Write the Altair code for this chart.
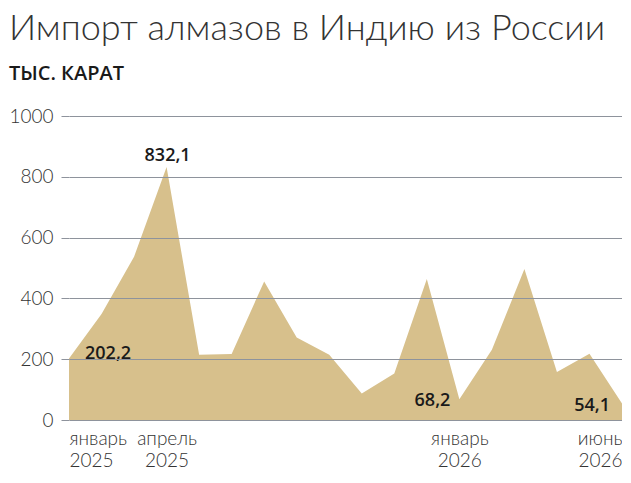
import altair as alt
import pandas as pd

# Monthly imports, thousand carats, Jan 2025 .. Jun 2026
month_index = list(range(18))
values = [202.2, 349, 537, 832.1, 215, 217, 456, 271, 215, 87, 153, 464,
          68.2, 231, 497, 158, 218, 54.1]

tick_positions = [0, 3, 12, 17]
tick_labels = [["январь", "2025"], ["апрель", "2025"], ["январь", "2026"], ["июнь", "2026"]]

annot_idx = [0, 3, 12, 17]
annot_text = ["202,2", "832,1", "68,2", "54,1"]

y_ticks = [0, 200, 400, 600, 800, 1000]

df = pd.DataFrame({"idx": month_index, "value": values})
ann = pd.DataFrame({"idx": annot_idx, "value": [values[i] for i in annot_idx], "text": annot_text})

label_expr = " : ".join(
    f"datum.value == {p} ? ['{a}', '{b}']" for p, (a, b) in zip(tick_positions, tick_labels)
) + " : ''"

FONT = "Open Sans"
AXF = "Lato"
GRID = "#8e939c"
TXT = "#333333"

x_enc = alt.X("idx:Q",
              scale=alt.Scale(domain=[0, 17], nice=False, zero=False),
              axis=alt.Axis(values=tick_positions, labelExpr=label_expr, title=None,
                            grid=False, ticks=False, domain=False, labelFlush=True,
                            labelOverlap=False,
                            labelPadding=9, labelLineHeight=22, labelFontSize=19,
                            labelFont=AXF, labelFontWeight=300, labelColor=TXT))
y_enc = alt.Y("value:Q",
              scale=alt.Scale(domain=[0, 1000], nice=False),
              axis=alt.Axis(values=y_ticks, format="d", title=None, grid=True, gridColor=GRID,
                            gridOpacity=1, gridWidth=1, ticks=True, tickSize=8,
                            tickColor=GRID, domain=False, labelPadding=8,
                            labelFontSize=19, labelFont=AXF, labelFontWeight=300,
                            labelColor=TXT, minExtent=58, maxExtent=58, zindex=1))

area = alt.Chart(df).mark_area(color="#D7C08C", opacity=1).encode(x=x_enc, y=y_enc)

base_t = alt.Chart(ann)
def lbl(i, **kw):
    return base_t.transform_filter(alt.datum.idx == i).mark_text(
        font=FONT, fontSize=18, fontWeight=600, color="#1a1a1a", **kw
    ).encode(x="idx:Q", y="value:Q", text="text:N")

t1 = lbl(0, align="left", baseline="alphabetic", dx=16, dy=0)
t2 = lbl(3, align="center", baseline="alphabetic", dx=1, dy=-6)
t3 = lbl(12, align="right", baseline="alphabetic", dx=-9, dy=7)
t4 = lbl(17, align="right", baseline="alphabetic", dx=-12, dy=7)

chart = alt.layer(area, t1, t2, t3, t4).properties(
    width=614, height=462,
    autosize=alt.AutoSizeParams(type="fit", contains="padding"),
    padding={"left": 0, "top": 3, "right": 0, "bottom": 0},
    title=alt.TitleParams(
        text="Импорт алмазов в Индию из России",
        subtitle="ТЫС. КАРАТ",
        anchor="start", frame="bounds",
        font="Lato", fontSize=36, fontWeight=300, color=TXT,
        subtitleFont=FONT, subtitleFontSize=20, subtitleFontWeight=600,
        subtitleColor="#1a1a1a", subtitlePadding=16, offset=22,
    ),
).configure_view(stroke=None)

chart.save("out.html", embed_options={"renderer": "svg", "actions": False})
